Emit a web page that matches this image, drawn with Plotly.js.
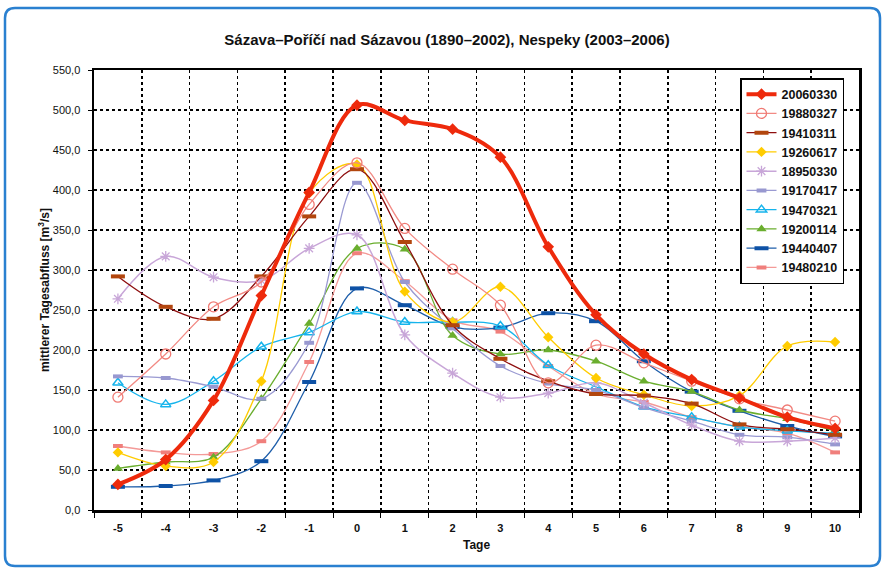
<!DOCTYPE html>
<html>
<head>
<meta charset="utf-8">
<script src="https://cdn.plot.ly/plotly-3.0.1.min.js"></script>
<style>html,body{margin:0;padding:0;background:#fff;}#chart{width:883px;height:569px;}</style>
</head>
<body>
<div id="chart"></div>
<script>
// ---- data ----
const days = [-5,-4,-3,-2,-1,0,1,2,3,4,5,6,7,8,9,10];
const seriesNames = ["20060330","19880327","19410311","19260617","18950330","19170417","19470321","19200114","19440407","19480210"];
const s20060330 = [32,63,137,268,397,506,487,476,441,329,244,195,163,140,116,102];
const s19880327 = [141,195,254,285,382,434,352,301,256,159,206,184,161,139,125,111];
const s19410311 = [292,254,239,292,367,426,335,231,189,161,145,143,133,107,101,94];
const s19260617 = [72,55,60,161,396,432,273,235,279,216,165,144,130,143,205,210];
const s18950330 = [264,317,291,287,327,344,219,171,141,146,159,134,106,86,86,90];
const s19170417 = [167,165,154,139,209,409,285,227,180,158,150,128,111,94,91,82];
const s19470321 = [159,132,161,204,222,248,235,235,230,181,154,129,116,104,99,96];
const s19200114 = [52,60,66,139,233,327,326,218,195,200,186,161,148,125,114,99];
const s19440407 = [29,30,37,61,160,277,256,229,228,246,236,186,148,124,105,92];
const s19480210 = [80,72,70,86,185,321,286,237,223,180,145,135,116,104,96,72];
const seriesValues = [s20060330,s19880327,s19410311,s19260617,s18950330,s19170417,s19470321,s19200114,s19440407,s19480210];
const tickLabels = ["-5","-4","-3","-2","-1","0","1","2","3","4","5","6","7","8","9","10"];

// ---- styles ----
const styles = [
  {lc:"#EE2A0C", lw:4,   m:{symbol:"diamond", size:9, color:"#EE2A0C"}},
  {lc:"#F28A84", lw:1.3, m:{symbol:"circle-open", size:10, color:"#F07A74", line:{width:1.3}}},
  {lc:"#8E0E0E", lw:1.3, m:{symbol:"line-ew", size:10, line:{width:4, color:"#B2460E"}}},
  {lc:"#FFCC00", lw:1.3, m:{symbol:"diamond", size:8, color:"#FFCC00"}},
  {lc:"#C8A6D8", lw:1.5, m:{symbol:"asterisk-open", size:9, line:{width:1.3, color:"#B894CC"}}},
  {lc:"#9A9AD2", lw:1.3, m:{symbol:"line-ew", size:7, line:{width:4, color:"#9898D0"}}},
  {lc:"#16B4EC", lw:1.3, m:{symbol:"triangle-up-open", size:9, color:"#16B4EC", line:{width:1.5}}},
  {lc:"#6AAE2E", lw:1.3, m:{symbol:"triangle-up", size:9, color:"#6AAE2E"}},
  {lc:"#1E5EAA", lw:1.3, m:{symbol:"line-ew", size:10, line:{width:4, color:"#0E52A6"}}},
  {lc:"#F49A98", lw:1.3, m:{symbol:"line-ew", size:7, line:{width:4, color:"#F07F7C"}}}
];

const traces = [];
for (let i = seriesNames.length - 1; i >= 0; i--) {
  const st = styles[i];
  traces.push({
    type: "scatter", mode: "lines+markers", name: seriesNames[i],
    x: days, y: seriesValues[i],
    line: {color: st.lc, width: st.lw, shape: "spline", smoothing: 1},
    marker: st.m
  });
}

// frame (decoration) in paper coordinates
const L = 94, R = 859, T = 70, B = 510;
const px = v => (v - L) / (R - L);
const py = v => (B - v) / (B - T);
const fx0 = 5, fx1 = 880, fy0 = 8, fy1 = 566, rr = 10;
const framePath =
  `M ${px(fx0+rr)},${py(fy0)} L ${px(fx1-rr)},${py(fy0)} Q ${px(fx1)},${py(fy0)} ${px(fx1)},${py(fy0+rr)} ` +
  `L ${px(fx1)},${py(fy1-rr)} Q ${px(fx1)},${py(fy1)} ${px(fx1-rr)},${py(fy1)} ` +
  `L ${px(fx0+rr)},${py(fy1)} Q ${px(fx0)},${py(fy1)} ${px(fx0)},${py(fy1-rr)} ` +
  `L ${px(fx0)},${py(fy0+rr)} Q ${px(fx0)},${py(fy0)} ${px(fx0+rr)},${py(fy0)} Z`;

const font = "Liberation Sans, Arial, sans-serif";
const layout = {
  width: 883, height: 569,
  margin: {l: L, r: 883 - R, t: T, b: 569 - B, pad: 0},
  paper_bgcolor: "#fff", plot_bgcolor: "#fff",
  separators: ",.",
  font: {family: font, color: "#111", size: 11},
  title: {
    text: "<b>Sázava–Poříčí nad Sázavou (1890–2002), Nespeky (2003–2006)</b>",
    font: {family: font, size: 15, color: "#111"},
    x: 447/883, xref: "container", xanchor: "center",
    y: 1 - 40/569, yref: "container", yanchor: "middle"
  },
  xaxis: {
    range: [-5.5, 10.5], tickmode: "array", tickvals: days, ticktext: tickLabels.map(t => "<b>" + t + "</b>"),
    showgrid: false, zeroline: false, ticks: "", ticklabelstandoff: 6,
    showline: true, linecolor: "#000", linewidth: 2.5, mirror: true,
    tickfont: {size: 11, family: font, color: "#111"},
    minor: {tick0: -5.5, dtick: 1, showgrid: true, gridcolor: "#000", gridwidth: 1.6, griddash: "3px,3px",
            ticks: "outside", ticklen: 5, tickcolor: "#000", tickwidth: 1},
    title: {text: "<b>Tage</b>", font: {size: 12, family: font, color: "#111"}, standoff: 8}
  },
  yaxis: {
    range: [0, 550], dtick: 50, tick0: 0, tickformat: ".1f",
    showgrid: true, gridcolor: "#000", gridwidth: 1.6, griddash: "3px,3px",
    zeroline: false, showline: true, linecolor: "#000", linewidth: 2.5, mirror: true,
    ticks: "outside", ticklen: 4, tickcolor: "#000", tickwidth: 1, ticklabelstandoff: 5,
    tickfont: {size: 11, family: font, color: "#111"},
    title: {text: "<b>mittlerer Tagesabfluss [m<sup>3</sup>/s]</b>", font: {size: 12, family: font, color: "#111"}, standoff: 1}
  },
  legend: {
    x: (740 - L) / (R - L), y: (B - 78) / (B - T), xanchor: "left", yanchor: "top",
    bgcolor: "#fff", bordercolor: "#000", borderwidth: 1.5,
    font: {size: 12.5, family: font, color: "#111", weight: "bold"},
    traceorder: "reversed", itemwidth: 30, tracegroupgap: 0
  },
  shapes: [{type: "path", xref: "paper", yref: "paper", path: framePath,
            line: {color: "#2A80D0", width: 2.5}, fillcolor: "rgba(0,0,0,0)", layer: "below"}],
  showlegend: true
};

Plotly.newPlot("chart", traces, layout, {displayModeBar: false, staticPlot: true});
</script>
</body>
</html>
